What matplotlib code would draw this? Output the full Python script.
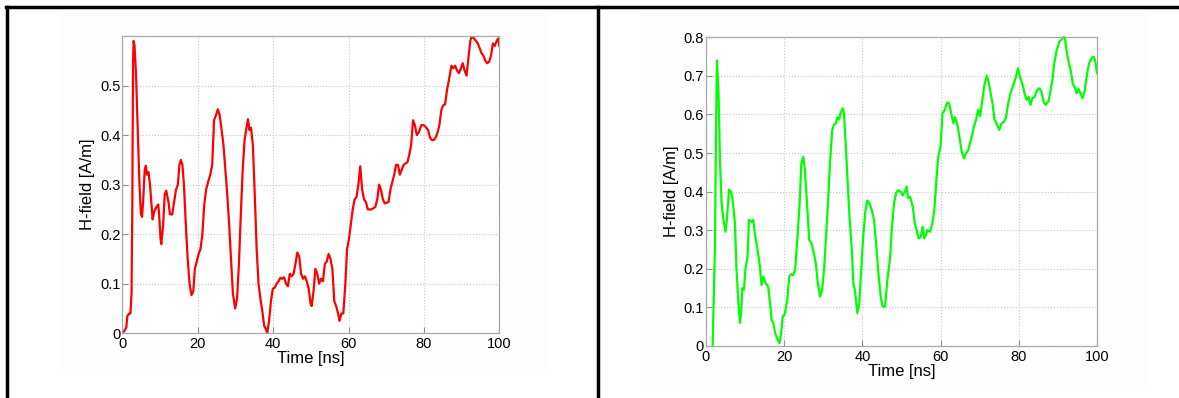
import matplotlib
matplotlib.use("Agg")
import matplotlib.pyplot as plt
from matplotlib.lines import Line2D
from matplotlib.patches import Rectangle

plt.rcParams['font.family'] = ['Liberation Sans', 'DejaVu Sans']

# red curve (left panel)
red_t = [0, 0.5, 1.0, 1.3, 1.8, 2.1, 2.4, 2.6, 2.8, 2.95, 3.2, 3.6, 4.0, 4.5, 4.9, 5.2, 5.5, 5.9, 6.2, 6.5,
         6.9, 7.3, 7.7, 8.0, 8.4, 9.0, 9.5, 9.8, 10.1, 10.3, 10.8, 11.2, 11.6, 12.2, 12.6, 13.2, 13.6, 14.2, 14.7, 15.1,
         15.5, 15.9, 16.3, 16.8, 17.3, 17.8, 18.3, 18.8, 19.2, 19.7, 20.2, 20.7, 21.2, 21.7, 22.2, 22.7, 23.3, 23.8, 24.3, 24.8,
         25.3, 25.8, 26.3, 26.8, 27.3, 27.8, 28.3, 28.8, 29.3, 29.9, 30.4, 30.9, 31.4, 31.9, 32.4, 32.9, 33.3, 33.7, 34.1, 34.6,
         35.1, 35.6, 36.1, 36.6, 37.1, 37.6, 38.1, 38.4, 38.9, 39.4, 39.9, 40.4, 40.9, 41.4, 41.9, 42.4, 42.9, 43.4, 43.9, 44.4,
         44.9, 45.4, 45.9, 46.4, 46.9, 47.4, 47.9, 48.4, 48.9, 49.4, 49.9, 50.2, 50.7, 51.2, 51.7, 52.2, 52.7, 53.2, 53.7, 54.2,
         54.7, 55.2, 55.7, 56.2, 56.7, 57.2, 57.6, 58.1, 58.6, 59.1, 59.6, 60.1, 60.6, 61.1, 61.6, 62.1, 62.6, 63.1, 63.6, 64.1,
         64.6, 65.1, 66.1, 67.1, 67.6, 68.1, 68.6, 69.1, 69.6, 70.6, 71.1, 71.6, 72.1, 72.6, 73.1, 73.6, 74.1, 74.6, 75.6, 76.1,
         76.6, 77.1, 77.6, 78.1, 78.6, 79.3, 80.0, 80.6, 81.1, 81.6, 82.1, 82.6, 83.1, 83.6, 84.1, 84.6, 85.1, 85.6, 86.1, 86.6,
         87.3, 87.8, 88.3, 88.8, 89.3, 89.8, 90.3, 90.8, 91.3, 91.8, 92.3, 92.7, 93.3, 93.8, 94.3, 94.8, 95.3, 95.8, 96.3, 96.8,
         97.3, 97.8, 98.3, 98.8, 99.3, 99.7, 100.0]
red_v = [0, 0.005, 0.012, 0.035, 0.04, 0.04, 0.08, 0.25, 0.55, 0.59, 0.58, 0.52, 0.42, 0.30, 0.24, 0.235, 0.27, 0.33, 0.338, 0.32,
         0.325, 0.30, 0.26, 0.23, 0.245, 0.255, 0.26, 0.23, 0.19, 0.18, 0.22, 0.28, 0.288, 0.265, 0.24, 0.24, 0.26, 0.29, 0.30, 0.34,
         0.35, 0.34, 0.30, 0.22, 0.15, 0.10, 0.077, 0.085, 0.13, 0.145, 0.16, 0.17, 0.20, 0.26, 0.29, 0.305, 0.32, 0.34, 0.43, 0.44,
         0.452, 0.44, 0.41, 0.38, 0.33, 0.28, 0.22, 0.15, 0.08, 0.05, 0.07, 0.14, 0.24, 0.33, 0.39, 0.415, 0.432, 0.41, 0.415, 0.38,
         0.28, 0.17, 0.10, 0.07, 0.045, 0.015, 0.008, 0.0, 0.025, 0.065, 0.09, 0.092, 0.10, 0.105, 0.112, 0.11, 0.113, 0.10, 0.095, 0.12,
         0.115, 0.12, 0.14, 0.163, 0.155, 0.12, 0.11, 0.115, 0.105, 0.09, 0.06, 0.055, 0.085, 0.13, 0.12, 0.10, 0.11, 0.105, 0.14, 0.145,
         0.16, 0.15, 0.13, 0.065, 0.055, 0.04, 0.025, 0.04, 0.04, 0.095, 0.17, 0.19, 0.22, 0.25, 0.27, 0.275, 0.30, 0.337, 0.29, 0.27,
         0.265, 0.25, 0.25, 0.255, 0.27, 0.30, 0.29, 0.27, 0.262, 0.265, 0.29, 0.305, 0.32, 0.34, 0.34, 0.32, 0.33, 0.34, 0.345, 0.36,
         0.38, 0.43, 0.42, 0.40, 0.405, 0.42, 0.42, 0.415, 0.41, 0.395, 0.39, 0.39, 0.395, 0.405, 0.42, 0.45, 0.46, 0.462, 0.49, 0.51,
         0.54, 0.535, 0.54, 0.53, 0.525, 0.535, 0.545, 0.53, 0.52, 0.555, 0.59, 0.60, 0.595, 0.59, 0.585, 0.575, 0.565, 0.56, 0.55, 0.545,
         0.548, 0.56, 0.585, 0.58, 0.59, 0.595, 0.58]

# green curve (right panel)
green_t = [1.7, 2.3, 2.56, 2.8, 3.2, 3.6, 4.0, 4.4, 5.0, 5.4, 5.9, 6.4, 6.8, 7.4, 7.8, 8.3, 8.7, 9.0, 9.3, 9.7,
           10.1, 10.6, 11.0, 11.7, 12.1, 12.5, 13.2, 13.8, 14.2, 14.7, 15.3, 15.9, 16.4, 16.8, 17.2, 17.7, 18.2, 18.8, 19.2, 19.6,
           20.2, 20.8, 21.3, 21.8, 22.3, 22.8, 23.4, 23.9, 24.4, 24.9, 25.3, 25.9, 26.4, 27.0, 27.6, 28.1, 28.6, 29.2, 29.7, 30.2,
           30.7, 31.3, 31.7, 32.3, 32.7, 33.2, 33.6, 34.1, 34.4, 35.0, 35.3, 36.0, 36.7, 37.3, 37.7, 38.1, 38.7, 39.2, 39.7, 40.2,
           40.8, 41.3, 41.8, 42.4, 43.0, 43.5, 44.1, 44.7, 45.2, 45.8, 46.4, 47.1, 47.5, 48.1, 48.6, 49.2, 49.8, 50.3, 50.9, 51.3,
           51.7, 52.2, 52.9, 53.4, 53.9, 54.4, 54.9, 55.4, 55.8, 56.3, 56.6, 57.3, 57.9, 58.4, 59.0, 59.4, 60.0, 60.5, 61.1, 61.7,
           62.2, 62.8, 63.3, 63.7, 64.3, 64.8, 65.4, 66.0, 66.5, 67.1, 67.5, 68.0, 68.5, 69.1, 69.6, 70.1, 70.7, 71.2, 71.8, 72.3,
           72.8, 73.3, 73.8, 74.3, 75.0, 75.6, 76.2, 76.7, 77.3, 77.9, 78.6, 79.3, 79.8, 80.3, 81.0, 81.6, 82.0, 82.5, 83.0, 83.5,
           84.1, 84.7, 85.3, 85.8, 86.4, 86.9, 87.6, 88.0, 88.6, 89.1, 89.7, 90.4, 91.0, 91.4, 91.8, 92.2, 92.8, 93.3, 93.8, 94.4,
           94.8, 95.3, 95.8, 96.3, 96.9, 97.5, 98.0, 98.6, 99.2, 99.6, 100.0]
green_v = [0, 0.26, 0.56, 0.74, 0.66, 0.47, 0.37, 0.33, 0.296, 0.335, 0.405, 0.40, 0.38, 0.32, 0.20, 0.11, 0.06, 0.085, 0.15, 0.145,
           0.20, 0.23, 0.327, 0.322, 0.327, 0.29, 0.25, 0.205, 0.158, 0.18, 0.162, 0.154, 0.11, 0.067, 0.06, 0.033, 0.02, 0.007, 0.03, 0.074,
           0.085, 0.12, 0.18, 0.186, 0.184, 0.197, 0.283, 0.36, 0.473, 0.49, 0.456, 0.36, 0.275, 0.266, 0.24, 0.214, 0.162, 0.128, 0.145, 0.197,
           0.283, 0.387, 0.473, 0.56, 0.573, 0.577, 0.593, 0.587, 0.603, 0.616, 0.603, 0.473, 0.335, 0.249, 0.162, 0.145, 0.085, 0.11, 0.197, 0.283,
           0.352, 0.377, 0.37, 0.352, 0.327, 0.266, 0.188, 0.128, 0.102, 0.102, 0.171, 0.23, 0.30, 0.37, 0.396, 0.404, 0.40, 0.39, 0.40, 0.413,
           0.383, 0.387, 0.36, 0.318, 0.30, 0.279, 0.282, 0.309, 0.279, 0.288, 0.30, 0.296, 0.318, 0.352, 0.439, 0.49, 0.517, 0.603, 0.612, 0.631,
           0.629, 0.599, 0.577, 0.593, 0.573, 0.543, 0.504, 0.486, 0.499, 0.508, 0.525, 0.543, 0.568, 0.587, 0.612, 0.596, 0.638, 0.676, 0.70, 0.685,
           0.655, 0.629, 0.586, 0.577, 0.56, 0.577, 0.581, 0.59, 0.629, 0.655, 0.676, 0.698, 0.72, 0.698, 0.676, 0.65, 0.638, 0.646, 0.625, 0.642,
           0.646, 0.663, 0.668, 0.659, 0.631, 0.625, 0.634, 0.655, 0.689, 0.733, 0.767, 0.789, 0.795, 0.80, 0.80, 0.767, 0.733, 0.715, 0.68, 0.668,
           0.655, 0.666, 0.655, 0.642, 0.663, 0.707, 0.733, 0.746, 0.75, 0.737, 0.707]

x_ticks = [0, 20, 40, 60, 80, 100]
red_yticks = [0, 0.1, 0.2, 0.3, 0.4, 0.5]
green_yticks = [0, 0.1, 0.2, 0.3, 0.4, 0.5, 0.6, 0.7, 0.8]


def style_axes(ax, yticks, ylim):
    ax.set_xlim(0, 100)
    ax.set_ylim(*ylim)
    ax.set_xticks(x_ticks)
    ax.set_yticks(yticks)
    ax.set_yticklabels(['0' if v == 0 else '%g' % v for v in yticks])
    ax.grid(True, linestyle=':', color='#c8c8c8', linewidth=0.8)
    ax.tick_params(direction='in', length=4, color='#909090', labelsize=10.5)
    ax.tick_params(axis='x', pad=3)
    ax.tick_params(axis='y', pad=1.5)
    for s in ax.spines.values():
        s.set_color('#a8a8a8')
        s.set_linewidth(0.9)
    ax.set_xlabel('Time [ns]', fontsize=12, labelpad=0)
    ax.set_ylabel('H-field [A/m]', fontsize=12, labelpad=3.5)


fig = plt.figure(figsize=(11.79, 3.98), dpi=100)

# faint panel backgrounds
fig.add_artist(Rectangle((60 / 1179, 1 - 372 / 398), 485 / 1179, 357 / 398,
                         transform=fig.transFigure, color='#fdfdfd', zorder=0))
fig.add_artist(Rectangle((640 / 1179, 1 - 388 / 398), 505 / 1179, 373 / 398,
                         transform=fig.transFigure, color='#fdfdfd', zorder=0))

ax1 = fig.add_axes([0.1039, 0.1626, 0.3196, 0.747])
ax1.plot(red_t, red_v, color='#ff0000', linewidth=1.6)
style_axes(ax1, red_yticks, (0, 0.6))

ax2 = fig.add_axes([0.5988, 0.1307, 0.3316, 0.7756])
ax2.plot(green_t, green_v, color='#00ff00', linewidth=1.6, clip_on=False)
style_axes(ax2, green_yticks, (0, 0.8))

# table borders
fig.add_artist(Line2D([6 / 1179, 1], [1 - 7 / 398, 1 - 7 / 398], color='black', linewidth=2.5))
fig.add_artist(Line2D([7 / 1179, 7 / 1179], [0, 1 - 7 / 398], color='black', linewidth=2.5))
fig.add_artist(Line2D([598 / 1179, 598 / 1179], [0, 1 - 7 / 398], color='black', linewidth=2.5))

fig.savefig('out.png', dpi=100)
